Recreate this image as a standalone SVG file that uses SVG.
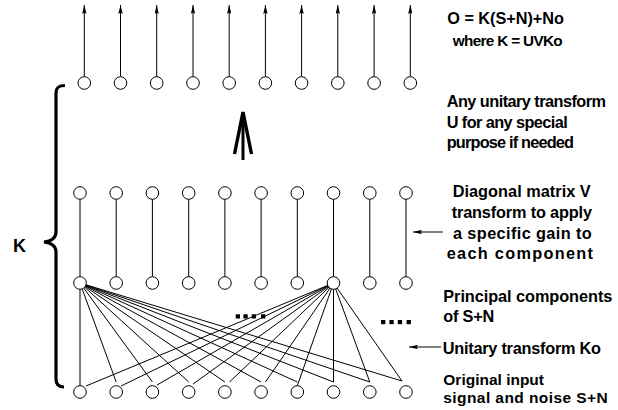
<svg xmlns="http://www.w3.org/2000/svg" width="618" height="410" viewBox="0 0 618 410">
<defs>
<style>
.c{fill:#fff;stroke:#000;stroke-width:1}
.l{stroke:#000;stroke-width:1;fill:none}
.t{font-family:"Liberation Sans",Arial,Helvetica,sans-serif;font-weight:bold;font-size:16.3px;fill:#000}
.d{fill:#000}
</style>
<marker id="ah" viewBox="0 0 9 4.4" refX="9" refY="2.2" markerWidth="9" markerHeight="4.4" markerUnits="userSpaceOnUse" orient="auto">
<path d="M0,0 L9,2.2 L0,4.4 L1.5,2.2 z" fill="#000"/>
</marker>
</defs>
<rect width="618" height="410" fill="#fff"/>

<g id="connectors">
<!-- output arrows -->
<line class="l" x1="84.3" y1="76.7" x2="84.3" y2="5" marker-end="url(#ah)"/>
<line class="l" x1="120.5" y1="76.7" x2="120.5" y2="5" marker-end="url(#ah)"/>
<line class="l" x1="156.7" y1="76.7" x2="156.7" y2="5" marker-end="url(#ah)"/>
<line class="l" x1="193" y1="76.7" x2="193" y2="5" marker-end="url(#ah)"/>
<line class="l" x1="229.2" y1="76.7" x2="229.2" y2="5" marker-end="url(#ah)"/>
<line class="l" x1="265.4" y1="76.7" x2="265.4" y2="5" marker-end="url(#ah)"/>
<line class="l" x1="301.6" y1="76.7" x2="301.6" y2="5" marker-end="url(#ah)"/>
<line class="l" x1="337.8" y1="76.7" x2="337.8" y2="5" marker-end="url(#ah)"/>
<line class="l" x1="374.1" y1="76.7" x2="374.1" y2="5" marker-end="url(#ah)"/>
<line class="l" x1="410.3" y1="76.7" x2="410.3" y2="5" marker-end="url(#ah)"/>
<!-- diagonal V links -->
<line class="l" x1="80" y1="199.3" x2="80" y2="276.7"/>
<line class="l" x1="116.2" y1="199.3" x2="116.2" y2="276.7"/>
<line class="l" x1="152.4" y1="199.3" x2="152.4" y2="276.7"/>
<line class="l" x1="188.7" y1="199.3" x2="188.7" y2="276.7"/>
<line class="l" x1="224.9" y1="199.3" x2="224.9" y2="276.7"/>
<line class="l" x1="261.1" y1="199.3" x2="261.1" y2="276.7"/>
<line class="l" x1="297.3" y1="199.3" x2="297.3" y2="276.7"/>
<line class="l" x1="333.5" y1="199.3" x2="333.5" y2="276.7"/>
<line class="l" x1="369.8" y1="199.3" x2="369.8" y2="276.7"/>
<line class="l" x1="406" y1="199.3" x2="406" y2="276.7"/>
<!-- Ko fan from column 1 -->
<path class="l" d="M80,283 L80,385.7 M80,283 L116.2,382 M80,283 L152.4,382 M80,283 L188.7,382 M80,283 L224.9,382 M80,283 L261.1,382 M80,283 L297.3,382 M80,283 L333.5,382 M80,283 L369.8,382 M80,283 L402,381"/>
<!-- Ko fan from column 8 -->
<path class="l" d="M333.5,283 L86,386 M333.5,283 L121,386 M333.5,283 L157,385 M333.5,283 L193,384 M333.5,283 L229.5,382 M333.5,283 L265.5,382 M333.5,283 L297.3,385.7 M333.5,283 L333.5,382 M333.5,283 L369.8,382 M333.5,283 L402,381"/>
<!-- label pointers -->
<line class="l" x1="443" y1="232" x2="413" y2="232" marker-end="url(#ah)"/>
<line class="l" x1="441" y1="347" x2="409" y2="347" marker-end="url(#ah)"/>
<!-- big U arrow -->
<path d="M234.5,154 L243,112 L251.5,154" fill="none" stroke="#000" stroke-width="3.4" stroke-linejoin="miter"/>
<line x1="243" y1="116" x2="243" y2="160" stroke="#000" stroke-width="3"/>
<!-- brace K -->
<path d="M65,85.5 C59,85.5 56,87 56,93 L56,232 C56,238 52,241 44,242 C52,243 56,246 56,252 L56,379 C56,385 59,387 64,387" fill="none" stroke="#000" stroke-width="3.2"/>
</g>

<g id="output-row">
<g id="o1"><circle class="c" cx="84.3" cy="83" r="6.3"/></g>
<g id="o2"><circle class="c" cx="120.5" cy="83" r="6.3"/></g>
<g id="o3"><circle class="c" cx="156.7" cy="83" r="6.3"/></g>
<g id="o4"><circle class="c" cx="193" cy="83" r="6.3"/></g>
<g id="o5"><circle class="c" cx="229.2" cy="83" r="6.3"/></g>
<g id="o6"><circle class="c" cx="265.4" cy="83" r="6.3"/></g>
<g id="o7"><circle class="c" cx="301.6" cy="83" r="6.3"/></g>
<g id="o8"><circle class="c" cx="337.8" cy="83" r="6.3"/></g>
<g id="o9"><circle class="c" cx="374.1" cy="83" r="6.3"/></g>
<g id="o10"><circle class="c" cx="410.3" cy="83" r="6.3"/></g>
</g>

<g id="v-row">
<g id="v1"><circle class="c" cx="80" cy="193" r="6.3"/></g>
<g id="v2"><circle class="c" cx="116.2" cy="193" r="6.3"/></g>
<g id="v3"><circle class="c" cx="152.4" cy="193" r="6.3"/></g>
<g id="v4"><circle class="c" cx="188.7" cy="193" r="6.3"/></g>
<g id="v5"><circle class="c" cx="224.9" cy="193" r="6.3"/></g>
<g id="v6"><circle class="c" cx="261.1" cy="193" r="6.3"/></g>
<g id="v7"><circle class="c" cx="297.3" cy="193" r="6.3"/></g>
<g id="v8"><circle class="c" cx="333.5" cy="193" r="6.3"/></g>
<g id="v9"><circle class="c" cx="369.8" cy="193" r="6.3"/></g>
<g id="v10"><circle class="c" cx="406" cy="193" r="6.3"/></g>
</g>

<g id="pc-row">
<g id="p1"><circle class="c" cx="80" cy="283" r="6.3"/></g>
<g id="p2"><circle class="c" cx="116.2" cy="283" r="6.3"/></g>
<g id="p3"><circle class="c" cx="152.4" cy="283" r="6.3"/></g>
<g id="p4"><circle class="c" cx="188.7" cy="283" r="6.3"/></g>
<g id="p5"><circle class="c" cx="224.9" cy="283" r="6.3"/></g>
<g id="p6"><circle class="c" cx="261.1" cy="283" r="6.3"/></g>
<g id="p7"><circle class="c" cx="297.3" cy="283" r="6.3"/></g>
<g id="p8"><circle class="c" cx="333.5" cy="283" r="6.3"/></g>
<g id="p9"><circle class="c" cx="369.8" cy="283" r="6.3"/></g>
<g id="p10"><circle class="c" cx="406" cy="283" r="6.3"/></g>
</g>

<g id="input-row">
<g id="i1"><circle class="c" cx="80" cy="392" r="6.3"/></g>
<g id="i2"><circle class="c" cx="116.2" cy="392" r="6.3"/></g>
<g id="i3"><circle class="c" cx="152.4" cy="392" r="6.3"/></g>
<g id="i4"><circle class="c" cx="188.7" cy="392" r="6.3"/></g>
<g id="i5"><circle class="c" cx="224.9" cy="392" r="6.3"/></g>
<g id="i6"><circle class="c" cx="261.1" cy="392" r="6.3"/></g>
<g id="i7"><circle class="c" cx="297.3" cy="392" r="6.3"/></g>
<g id="i8"><circle class="c" cx="333.5" cy="392" r="6.3"/></g>
<g id="i9"><circle class="c" cx="369.8" cy="392" r="6.3"/></g>
<g id="i10"><circle class="c" cx="406" cy="392" r="6.3"/></g>
</g>

<g id="ellipsis">
<rect class="d" x="235.7" y="314.3" width="4.3" height="4.2"/>
<rect class="d" x="243.4" y="314.3" width="4.3" height="4.2"/>
<rect class="d" x="251.7" y="314.3" width="4.3" height="4.2"/>
<rect class="d" x="261" y="314.3" width="4.3" height="4.2"/>
<rect class="d" x="381" y="320" width="4.3" height="4.2"/>
<rect class="d" x="389.4" y="320" width="4.3" height="4.2"/>
<rect class="d" x="397.8" y="320" width="4.3" height="4.2"/>
<rect class="d" x="406.6" y="320" width="4.3" height="4.2"/>
</g>

<g id="labels">
<text class="t" x="13" y="252" style="font-size:18px">K</text>
<text class="t" x="447.3" y="24" textLength="116.7" lengthAdjust="spacing">O = K(S+N)+No</text>
<text class="t" x="452.7" y="45.7" style="font-size:15.3px" textLength="110" lengthAdjust="spacing">where K = UVKo</text>
<text class="t" x="446.7" y="107.3" textLength="159.3" lengthAdjust="spacing">Any unitary transform</text>
<text class="t" x="446.7" y="127.5" textLength="121" lengthAdjust="spacing">U for any special</text>
<text class="t" x="446.7" y="147.5" textLength="127.3" lengthAdjust="spacing">purpose if needed</text>
<text class="t" x="452.7" y="197.3" textLength="138" lengthAdjust="spacing">Diagonal matrix V</text>
<text class="t" x="451.7" y="218.3" textLength="140.3" lengthAdjust="spacing">transform to apply</text>
<text class="t" x="453" y="238.5" textLength="138.7" lengthAdjust="spacing">a specific gain to</text>
<text class="t" x="446.7" y="259.3" textLength="146.3" lengthAdjust="spacing">each component</text>
<text class="t" x="443.3" y="301.5" textLength="169" lengthAdjust="spacing">Principal components</text>
<text class="t" x="443.3" y="321.7" textLength="51" lengthAdjust="spacing">of S+N</text>
<text class="t" x="442.7" y="354" textLength="158.3" lengthAdjust="spacing">Unitary transform Ko</text>
<text class="t" x="443.3" y="385" style="font-size:15.5px" textLength="100.7" lengthAdjust="spacing">Original input</text>
<text class="t" x="443.3" y="402.5" style="font-size:15.5px" textLength="164.4" lengthAdjust="spacing">signal and noise S+N</text>
</g>
</svg>
